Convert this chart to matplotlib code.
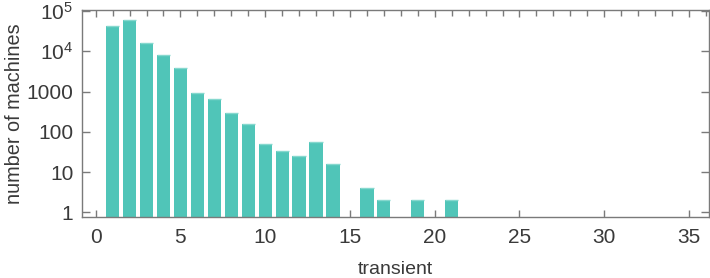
import matplotlib
matplotlib.use("Agg")
import matplotlib.pyplot as plt
from matplotlib.ticker import FixedLocator, FixedFormatter, LogLocator, NullFormatter, MultipleLocator
import numpy as np

plt.rcParams['font.family'] = ['Liberation Sans', 'DejaVu Sans']
plt.rcParams['mathtext.fontset'] = 'custom'
plt.rcParams['mathtext.rm'] = 'Liberation Sans'
plt.rcParams['mathtext.it'] = 'Liberation Sans'

transient = [1, 2, 3, 4, 5, 6, 7, 8, 9, 10, 11, 12, 13, 14, 16, 17, 19, 21]
counts = [42500, 60000, 16000, 8100, 3850, 910, 655, 288, 157, 51, 33, 25, 55, 16, 4, 2, 2, 2]
ytick_vals = [1, 10, 100, 1000, 1e4, 1e5]
ytick_labels = ['1', '10', '100', '1000', r'$10^4$', r'$10^5$']
xticks = [0, 5, 10, 15, 20, 25, 30, 35]

bar_color = '#50C5B8'
top_color = '#86D8CE'
frame_color = '#7a7a7a'
text_color = '#3a3a3a'

fig = plt.figure(figsize=(7.10, 2.78), dpi=100)
ax = fig.add_axes([0.115, 0.2183, 0.8836, 0.7475])

ylow, yhigh = 0.751, 10 ** 5.037
ax.set_yscale('log')
ax.bar(transient, np.array(counts) - ylow, bottom=ylow, width=0.78, color=bar_color, edgecolor='none', zorder=2)
ax.hlines(counts, np.array(transient) - 0.39, np.array(transient) + 0.39, color=top_color, lw=1.0, zorder=3)

ax.set_xlim(-0.826, 36.18)
ax.set_ylim(ylow, yhigh)

ax.yaxis.set_major_locator(FixedLocator(ytick_vals))
ax.yaxis.set_major_formatter(FixedFormatter(ytick_labels))
ax.yaxis.set_minor_locator(LogLocator(base=10, subs=np.arange(2, 10)))
ax.yaxis.set_minor_formatter(NullFormatter())

ax.xaxis.set_major_locator(FixedLocator(xticks))
ax.xaxis.set_minor_locator(MultipleLocator(1))

for s in ax.spines.values():
    s.set_color(frame_color)
    s.set_linewidth(1.0)

ax.tick_params(axis='both', which='both', direction='in', colors=frame_color, labelcolor=text_color, labelsize=15)
ax.tick_params(axis='y', which='major', length=6, width=1, left=True, right=True, pad=6)
ax.tick_params(axis='y', which='minor', length=3.5, width=0.8, left=True, right=True, color='#b5b5b5')
ax.tick_params(axis='x', which='major', length=5, width=1, top=True, bottom=True, pad=8)
ax.tick_params(axis='x', which='minor', length=4, width=1, top=True, bottom=False)

ax.set_xlabel('transient', fontsize=14, color=text_color, labelpad=10)
ax.set_ylabel('number of machines', fontsize=14.3, color=text_color, labelpad=2)

fig.savefig('out.png', dpi=100)
